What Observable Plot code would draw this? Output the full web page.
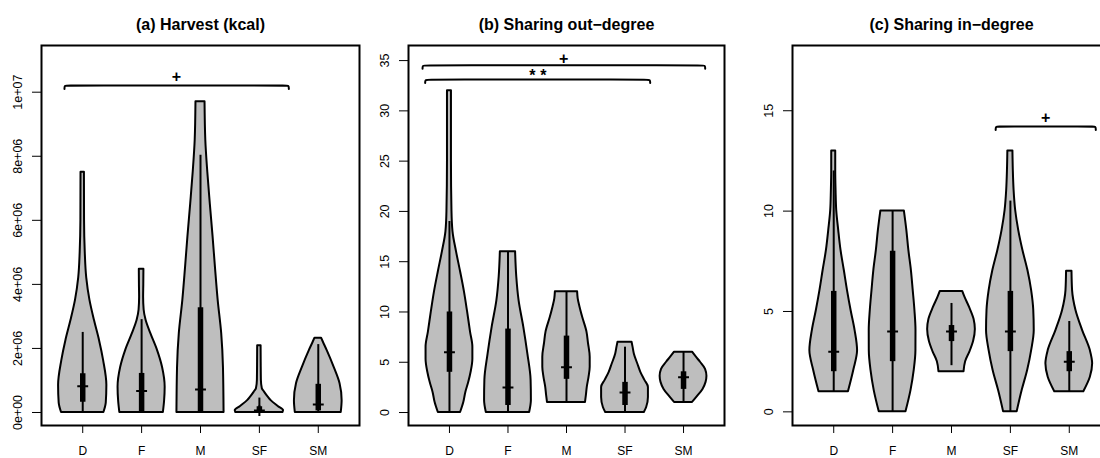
<!DOCTYPE html>
<html><head><meta charset="utf-8">
<script src="https://cdn.jsdelivr.net/npm/d3@7"></script>
<script src="https://cdn.jsdelivr.net/npm/@observablehq/plot@0.6"></script>
<style>
body{margin:0;background:#fff;overflow:hidden}
#fig{position:relative;width:1100px;height:458px;overflow:hidden;background:#fff}
#fig svg{position:absolute;top:0}
</style></head><body><div id="fig"></div>
<script>
const categories = ["D","F","M","SF","SM"];
const titles = ["(a) Harvest (kcal)", "(b) Sharing out\u2212degree", "(c) Sharing in\u2212degree"];

// ---- (a) Harvest, values in millions of kcal ----
const harvestViolinY = [
  [0,0.3,0.85,1.62,2.25,2.87,3.5,4.2,5,6,7.5],
  [0,0.35,0.79,1.41,1.94,2.46,2.87,3.2,3.6,4.0,4.47],
  [0,1.4,2.46,3.5,4.5,5.5,6.5,7.5,8.5,9.7],
  [0,0.06,0.19,0.37,0.48,0.63,0.74,1.0,1.5,2.08],
  [0,0.37,0.9,1.41,1.94,2.2,2.32]
];
const harvestViolinW = [
  [0.36,0.40,0.41,0.355,0.285,0.20,0.123,0.068,0.043,0.031,0.029],
  [0.37,0.39,0.40,0.355,0.27,0.157,0.077,0.043,0.034,0.037,0.039],
  [0.40,0.39,0.36,0.30,0.255,0.213,0.167,0.124,0.09,0.077],
  [0.40,0.41,0.32,0.20,0.15,0.09,0.05,0.034,0.031,0.029],
  [0.39,0.405,0.37,0.27,0.15,0.085,0.056]
];
const harvestMedian = [0.82,0.67,0.72,0.06,0.25];
const harvestQ1 = [0.32,0,0,0,0.05];
const harvestQ3 = [1.21,1.22,3.27,0.18,0.88];
const harvestLo = [0,0,0,0,0];
const harvestHi = [2.5,2.9,8.03,0.45,2.12];
const harvestTicks = [0,2,4,6,8,10];
const harvestTickLabels = ["0e+00","2e+06","4e+06","6e+06","8e+06","1e+07"];
const harvestBracketX1 = [0.69], harvestBracketX2 = [4.5], harvestBracketY = [10.21];
const harvestSigLabel = ["+"], harvestSigX = [2.59], harvestSigY = [10.49];

// ---- (b) Sharing out-degree ----
const outViolinY = [
  [0,1,2,3,4,5.3,6.5,8,10,12,14,16,18,20,25,32],
  [0,1.2,3.2,5.8,8.5,11.1,13.5,16],
  [1,1.7,2.5,3.5,4.5,5.5,6.9,8,9.5,10.5,11.3,12],
  [0,0.5,1.5,2.5,3.2,4.0,4.8,5.8,6.5,7],
  [1,1.6,2.3,3.0,3.6,4.3,5.0,5.5,6]
];
const outViolinW = [
  [0.19,0.245,0.28,0.33,0.37,0.40,0.40,0.36,0.31,0.256,0.19,0.12,0.06,0.043,0.034,0.034],
  [0.37,0.40,0.395,0.34,0.27,0.19,0.15,0.13],
  [0.325,0.34,0.355,0.385,0.405,0.405,0.375,0.35,0.275,0.23,0.2,0.19],
  [0.33,0.37,0.40,0.40,0.34,0.27,0.22,0.16,0.137,0.12],
  [0.154,0.24,0.333,0.385,0.40,0.376,0.29,0.22,0.154]
];
const outMedian = [6,2.5,4.5,2,3.5];
const outQ1 = [4,0.7,3.3,0.7,2.3];
const outQ3 = [10,8.3,7.6,3,4.05];
const outLo = [0,0,1,0,1];
const outHi = [19,16,12,6.5,6];
const outTicks = [0,5,10,15,20,25,30,35];
const outTickLabels = ["0","5","10","15","20","25","30","35"];
const outBracketX1 = [0.54,0.585], outBracketX2 = [5.37,4.43], outBracketY = [34.53,33.11];
const outSigLabel = ["+","**"], outSigX = [2.95,2.51], outSigY = [35.19,33.44];

// ---- (c) Sharing in-degree ----
const inViolinY = [
  [1,2.06,3.05,4.05,5.05,6.04,7.04,8.04,9.03,10.03,11,12,13],
  [0,1.06,2.06,3.05,4.05,5.05,6.04,7.04,8.04,9.03,10],
  [2,2.5,3.0,3.5,4.1,4.6,5.2,5.7,6],
  [0,1.06,2.06,3.05,4.05,5.05,6.04,7.04,8.04,9.03,10.03,11.03,12,13],
  [1,1.72,2.39,3.05,4.05,5.05,6.04,7]
];
const inViolinW = [
  [0.25,0.34,0.405,0.363,0.295,0.234,0.18,0.124,0.085,0.051,0.04,0.034,0.034],
  [0.227,0.312,0.367,0.396,0.397,0.379,0.35,0.319,0.276,0.242,0.2],
  [0.213,0.24,0.315,0.375,0.405,0.384,0.307,0.23,0.19],
  [0.115,0.2,0.293,0.361,0.405,0.397,0.361,0.298,0.213,0.142,0.09,0.063,0.05,0.043],
  [0.247,0.358,0.397,0.358,0.227,0.114,0.056,0.046]
];
const inMedian = [3,4,4,4,2.5];
const inQ1 = [2,2.5,3.5,3,2];
const inQ3 = [6,8,4.3,6,3];
const inLo = [1,0,2.3,0,1];
const inHi = [12,10,5.4,10.5,4.5];
const inTicks = [0,5,10,15];
const inTickLabels = ["0","5","10","15"];
const inBracketX1 = [3.75], inBracketX2 = [5.45], inBracketY = [14.22];
const inSigLabel = ["+"], inSigX = [4.6], inSigY = [14.65];

const FONT = "'Liberation Sans', Arial, Helvetica, sans-serif";

function panel(o) {
  const rows = [];
  o.vy.forEach((ys, i) => ys.forEach((y, j) => rows.push({cat: i + 1, y, x1: i + 1 - o.vw[i][j], x2: i + 1 + o.vw[i][j]})));
  const stats = categories.map((c, i) => ({x: i + 1, med: o.med[i], q1: o.q1[i], q3: o.q3[i], lo: o.lo[i], hi: o.hi[i]}));
  const span = o.ydomain[1] - o.ydomain[0];
  const d = 3.5 * span / 380, e = 0.06;
  const br = [];
  o.bx1.forEach((a, k) => {
    const b = o.bx2[k], y = o.by[k];
    [[a, y - d], [a, y], [a + e, y], [b - e, y], [b, y], [b, y - d]].forEach(([x, yy]) => br.push({k, x, y: yy}));
  });
  const labels = o.sl.map((t, k) => ({t, x: o.sx[k], y: o.sy[k]}));
  const svg = Plot.plot({
    width: 366, height: 458,
    marginLeft: 41, marginRight: o.marginRight, marginTop: 45, marginBottom: 33,
    x: {domain: [0.3, 5.7]},
    y: {domain: o.ydomain},
    style: {fontFamily: FONT, fontSize: "12px", color: "black", background: "transparent", overflow: "visible"},
    marks: [
      Plot.areaX(rows, {y: "y", x1: "x1", x2: "x2", z: "cat", fill: "#bebebe", stroke: "black", strokeWidth: 2, curve: "monotone-y"}),
      Plot.ruleX(stats, {x: "x", y1: "lo", y2: "hi", stroke: "black", strokeWidth: 2}),
      Plot.ruleX(stats, {x: "x", y1: "q1", y2: "q3", stroke: "black", strokeWidth: 5.5}),
      Plot.dot(stats, {x: "x", y: "med", symbol: "plus", r: 3.6, stroke: "black", strokeWidth: 2}),
      Plot.line(br, {x: "x", y: "y", z: "k", curve: "basis", stroke: "black", strokeWidth: 2}),
      Plot.text(labels, {x: "x", y: "y", text: "t", fontWeight: "bold", fontSize: 16, fill: "black"}),
      Plot.text([o.title], {x: 3, frameAnchor: "top", lineAnchor: "middle", dy: -20.3, text: d => d, fontWeight: "bold", fontSize: 16, fill: "black"}),
      Plot.frame({stroke: "black", strokeWidth: 2}),
      Plot.axisX({ticks: [1, 2, 3, 4, 5], tickFormat: v => categories[v - 1], tickSize: 8, tickPadding: 13, fontSize: 12, label: null}),
      Plot.axisY({ticks: o.yticks, tickFormat: v => o.ylabels[o.yticks.indexOf(v)], tickSize: 9, tickPadding: 11, tickRotate: -90, fontSize: 12.5, label: null})
    ]
  });
  d3.select(svg).selectAll("text").filter(function () { return this.textContent === "**"; })
    .attr("letter-spacing", "4.8px").attr("dx", 2.4);
  svg.style.left = o.left + "px";
  return svg;
}

const fig = document.getElementById("fig");
fig.appendChild(panel({title: titles[0], vy: harvestViolinY, vw: harvestViolinW, med: harvestMedian, q1: harvestQ1, q3: harvestQ3, lo: harvestLo, hi: harvestHi,
  bx1: harvestBracketX1, bx2: harvestBracketX2, by: harvestBracketY, sl: harvestSigLabel, sx: harvestSigX, sy: harvestSigY,
  ydomain: [-0.406, 11.458], yticks: harvestTicks, ylabels: harvestTickLabels, left: 0, marginRight: 7}));
fig.appendChild(panel({title: titles[1], vy: outViolinY, vw: outViolinW, med: outMedian, q1: outQ1, q3: outQ3, lo: outLo, hi: outHi,
  bx1: outBracketX1, bx2: outBracketX2, by: outBracketY, sl: outSigLabel, sx: outSigX, sy: outSigY,
  ydomain: [-1.29, 36.5], yticks: outTicks, ylabels: outTickLabels, left: 367, marginRight: 9}));
fig.appendChild(panel({title: titles[2], vy: inViolinY, vw: inViolinW, med: inMedian, q1: inQ1, q3: inQ3, lo: inLo, hi: inHi,
  bx1: inBracketX1, bx2: inBracketX2, by: inBracketY, sl: inSigLabel, sx: inSigX, sy: inSigY,
  ydomain: [-0.68, 18.25], yticks: inTicks, ylabels: inTickLabels, left: 751, marginRight: 7}));
</script></body></html>
